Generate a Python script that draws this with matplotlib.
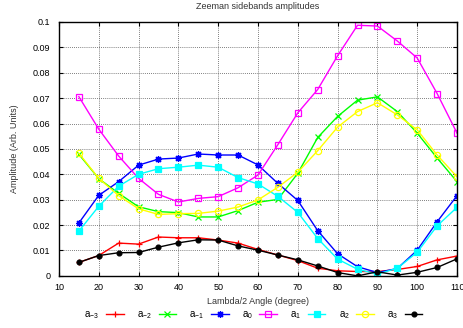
import matplotlib
matplotlib.use('Agg')
import matplotlib.pyplot as plt
import numpy as np

# lambda/2 plate angle (degree)
angle = [15, 20, 25, 30, 35, 40, 45, 50, 55, 60, 65, 70, 75, 80, 85, 90, 95, 100, 105, 110]

a_m3 = [0.0053, 0.0080, 0.0129, 0.0125, 0.0153, 0.0150, 0.0150, 0.0141, 0.0129, 0.0104,
        0.0082, 0.0060, 0.0030, 0.0020, 0.0017, 0.0017, 0.0025, 0.0037, 0.0063, 0.0078]
a_m2 = [0.0479, 0.0383, 0.0325, 0.0272, 0.0253, 0.0249, 0.0232, 0.0232, 0.0257, 0.0290,
        0.0301, 0.0404, 0.0545, 0.0628, 0.0692, 0.0705, 0.0647, 0.0562, 0.0464, 0.0371]
a_m1 = [0.0208, 0.0317, 0.0371, 0.0436, 0.0460, 0.0464, 0.0480, 0.0476, 0.0476, 0.0437,
        0.0364, 0.0297, 0.0178, 0.0087, 0.0036, 0.0013, 0.0029, 0.0101, 0.0213, 0.0316]
a_0 = [0.0706, 0.0578, 0.0472, 0.0384, 0.0321, 0.0291, 0.0305, 0.0312, 0.0347, 0.0397,
       0.0517, 0.0642, 0.0734, 0.0867, 0.0987, 0.0984, 0.0925, 0.0858, 0.0718, 0.0562]
a_1 = [0.0176, 0.0274, 0.0353, 0.0400, 0.0422, 0.0428, 0.0436, 0.0428, 0.0387, 0.0362,
       0.0313, 0.0250, 0.0147, 0.0066, 0.0026, 0.0007, 0.0030, 0.0093, 0.0197, 0.0270]
a_2 = [0.0483, 0.0384, 0.0316, 0.0264, 0.0242, 0.0245, 0.0246, 0.0255, 0.0271, 0.0299,
       0.0349, 0.0408, 0.0493, 0.0586, 0.0647, 0.0682, 0.0634, 0.0575, 0.0476, 0.0390]
a_3 = [0.0053, 0.0080, 0.0091, 0.0092, 0.0113, 0.0130, 0.0142, 0.0141, 0.0118, 0.0101,
       0.0082, 0.0063, 0.0039, 0.0013, 0.0000, 0.0016, 0.0003, 0.0014, 0.0033, 0.0067]

plt.rcParams['font.family'] = ['Liberation Sans', 'DejaVu Sans']
plt.rcParams['mathtext.default'] = 'regular'
plt.rcParams['font.size'] = 6.5

fig = plt.figure(figsize=(4.64, 3.28), dpi=100)
ax = fig.add_axes([0.127, 0.159, 0.858, 0.774])

series = [
    (a_m3, '$a_{-3}$', '#ff0000', dict(marker='+', markersize=5)),
    (a_m2, '$a_{-2}$', '#00ff00', dict(marker='x', markersize=4)),
    (a_m1, '$a_{-1}$', '#0000ff', dict(marker=(8, 2, 0), markersize=5)),
    (a_0, '$a_0$', '#ff00ff', dict(marker='s', markersize=4.5, markerfacecolor='none')),
    (a_1, '$a_1$', '#00ffff', dict(marker='s', markersize=4.5)),
    (a_2, '$a_2$', '#ffff00', dict(marker='o', markersize=4.5, markerfacecolor='none')),
    (a_3, '$a_3$', '#000000', dict(marker='o', markersize=3.5)),
]
for vals, lab, col, mk in series:
    ax.plot(angle, vals, color=col, lw=1.0, label=lab, markeredgewidth=0.9, **mk)

ax.set_xlim(10, 110)
ax.set_ylim(0, 0.1)
ax.set_xticks(range(10, 111, 10))
ax.set_yticks(np.arange(0, 0.101, 0.01))
ax.set_yticklabels(['0', '0.01', '0.02', '0.03', '0.04', '0.05', '0.06', '0.07', '0.08', '0.09', '0.1'])
ax.tick_params(direction='in', top=True, right=True, length=3, width=0.8, labelsize=6.5, colors='#000000')
ax.tick_params(axis='x', pad=5)
ax.tick_params(axis='y', pad=6)
ax.grid(True, linestyle=(0, (1, 1.5)), color='#555555', linewidth=0.6)
ax.set_axisbelow(True)
for sp in ax.spines.values():
    sp.set_linewidth(1.0)

ax.set_title('Zeeman sidebands amplitudes', fontsize=6.5, color='#333333', pad=9)
ax.set_xlabel('Lambda/2 Angle (degree)', fontsize=6.5, color='#333333', labelpad=4)
ax.set_ylabel('Amplitude (Arb. Units)', fontsize=6.5, color='#333333', labelpad=10)

fig.legend(loc='center', bbox_to_anchor=(0.546, 0.038), ncol=7, frameon=False,
           markerfirst=False, handlelength=1.8, handletextpad=0.7, columnspacing=1.35,
           fontsize=7, borderaxespad=0)

fig.savefig('out.png', dpi=100)
